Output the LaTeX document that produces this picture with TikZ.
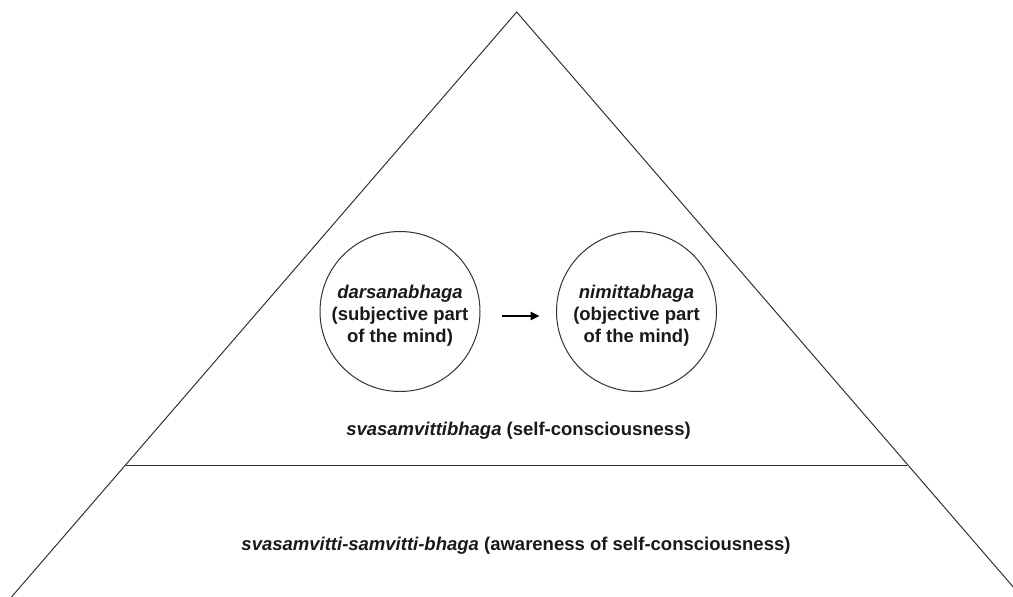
\documentclass[tikz,border=0pt]{standalone}
\usepackage{fontspec}
\setmainfont{Liberation Sans}
\usetikzlibrary{arrows.meta}
\definecolor{linegray}{HTML}{333333}
\definecolor{textblack}{HTML}{1A1A1A}
\begin{document}
\begin{tikzpicture}[x=1pt,y=-1pt,
  edge/.style={draw=linegray,line width=1pt},
  bubble/.style={circle,draw=linegray,line width=1pt,minimum size=160pt,inner sep=0pt},
  lbl/.style={text=textblack,font=\fontsize{18.5}{22}\selectfont\bfseries,align=center,inner sep=0pt},
  flow/.style={draw=black,line width=1.6pt,-{Triangle[length=9pt,width=8.5pt]}}]
\useasboundingbox (0,0) rectangle (1013,597);
\clip (0,0) rectangle (1013,597);
\fill[white] (0,0) rectangle (1013,597);
% triangle outline
\coordinate (A) at (516.7,12);
\coordinate (BL) at (11.5,597);
\coordinate (BR) at (1021.9,597);
\coordinate (ML) at (125.7,465.3);
\coordinate (MR) at (906.7,465.3);
\draw[edge,line join=miter] (BL) -- (A) -- (BR);
\draw[edge] (ML) -- (MR);
% circles
\node[bubble] (dL) at (400,311.5) {};
\node[bubble] (dR) at (636.5,311.5) {};
\node[lbl] (tL) at (400,316.2) {\itshape darsanabhaga\\(subjective part\\of the mind)};
\node[lbl] (tR) at (636.5,316.2) {\itshape nimittabhaga\\(objective part\\of the mind)};
\draw[flow,shorten <=21.5pt,shorten >=16.5pt] (dL.east |- 0,316) -- (dR.west |- 0,316);
% layer labels
\node[lbl,anchor=base] (s1) at (518.5,435) {\textit{svasamvittibhaga} (self-consciousness)};
\node[lbl,anchor=base] (s2) at (516,550) {\textit{svasamvitti-samvitti-bhaga} (awareness of self-consciousness)};
\end{tikzpicture}
\end{document}
